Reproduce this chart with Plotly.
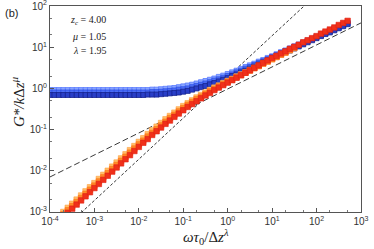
import plotly.graph_objects as go

# log10 of scaled frequency (shared grid)
logx_blue = [-4.0, -3.9, -3.8, -3.7, -3.6, -3.5, -3.4, -3.3, -3.2, -3.1,
             -3.0, -2.9, -2.8, -2.7, -2.6, -2.5, -2.4, -2.3, -2.2, -2.1,
             -2.0, -1.9, -1.8, -1.7, -1.6, -1.5, -1.4, -1.3, -1.2, -1.1,
             -1.0, -0.9, -0.8, -0.7, -0.6, -0.5, -0.4, -0.3, -0.2, -0.1,
             0.0, 0.1, 0.2, 0.3, 0.4, 0.5, 0.6, 0.7, 0.8, 0.9,
             1.0, 1.1, 1.2, 1.3, 1.4, 1.5, 1.6, 1.7, 1.8, 1.9,
             2.0, 2.1, 2.2, 2.3, 2.4, 2.5, 2.6, 2.7]

# log10 G' / k dz^mu  (three blue series)
g1_light = [-0.04, -0.04, -0.04, -0.04, -0.04, -0.04, -0.04, -0.04, -0.04, -0.04,
            -0.04, -0.04, -0.04, -0.04, -0.04, -0.04, -0.04, -0.04, -0.04, -0.04,
            -0.04, -0.04, -0.04, -0.03, -0.03, -0.02, -0.01, 0.00, 0.01, 0.03,
            0.05, 0.07, 0.09, 0.12, 0.15, 0.18, 0.21, 0.24, 0.28, 0.31,
            0.35, 0.39, 0.43, 0.47, 0.52, 0.56, 0.60, 0.65, 0.69, 0.74,
            0.78, 0.83, 0.88, 0.92, 0.97, 1.02, 1.06, 1.11, 1.16, 1.20,
            1.25, 1.30, 1.35, 1.40, 1.45, 1.50, 1.55, 1.60]
g1_mid = [-0.10, -0.10, -0.10, -0.10, -0.10, -0.10, -0.10, -0.10, -0.10, -0.10,
          -0.10, -0.10, -0.10, -0.10, -0.10, -0.10, -0.10, -0.10, -0.10, -0.10,
          -0.10, -0.10, -0.10, -0.09, -0.09, -0.08, -0.07, -0.06, -0.05, -0.03,
          -0.02, 0.00, 0.03, 0.06, 0.09, 0.12, 0.15, 0.19, 0.22, 0.26,
          0.30, 0.34, 0.39, 0.43, 0.48, 0.52, 0.57, 0.62, 0.66, 0.71,
          0.76, 0.81, 0.86, 0.91, 0.96, 1.01, 1.06, 1.10, 1.15, 1.20,
          1.25, 1.29, 1.34, 1.39, 1.44, 1.48, 1.53, 1.58]
g1_navy = [-0.16, -0.16, -0.16, -0.16, -0.16, -0.16, -0.16, -0.16, -0.16, -0.16,
           -0.16, -0.16, -0.16, -0.16, -0.16, -0.16, -0.16, -0.16, -0.16, -0.16,
           -0.16, -0.16, -0.15, -0.15, -0.15, -0.14, -0.13, -0.12, -0.11, -0.10,
           -0.08, -0.06, -0.03, 0.00, 0.03, 0.06, 0.10, 0.13, 0.17, 0.21,
           0.25, 0.30, 0.34, 0.39, 0.43, 0.48, 0.53, 0.58, 0.63, 0.68,
           0.73, 0.78, 0.83, 0.88, 0.92, 0.97, 1.02, 1.07, 1.12, 1.17,
           1.22, 1.27, 1.32, 1.36, 1.41, 1.46, 1.51, 1.56]

logx_orange = [-3.8, -3.7, -3.6, -3.5, -3.4, -3.3, -3.2, -3.1,
               -3.0, -2.9, -2.8, -2.7, -2.6, -2.5, -2.4, -2.3, -2.2, -2.1,
               -2.0, -1.9, -1.8, -1.7, -1.6, -1.5, -1.4, -1.3, -1.2, -1.1,
               -1.0, -0.9, -0.8, -0.7, -0.6, -0.5, -0.4, -0.3, -0.2, -0.1,
               0.0, 0.1, 0.2, 0.3, 0.4, 0.5, 0.6, 0.7, 0.8, 0.9,
               1.0, 1.1, 1.2, 1.3, 1.4, 1.5, 1.6, 1.7, 1.8, 1.9,
               2.0, 2.1, 2.2, 2.3, 2.4, 2.5, 2.6, 2.7]

# log10 G'' / k dz^mu  (three orange/red series)
g2_light = [-3.10, -3.00, -2.90, -2.80, -2.70, -2.60, -2.50, -2.40,
            -2.30, -2.20, -2.10, -2.00, -1.90, -1.80, -1.70, -1.60, -1.50, -1.40,
            -1.30, -1.21, -1.11, -1.02, -0.93, -0.84, -0.75, -0.67, -0.59, -0.51,
            -0.43, -0.36, -0.29, -0.22, -0.16, -0.10, -0.04, 0.02, 0.07, 0.13,
            0.18, 0.23, 0.29, 0.34, 0.39, 0.45, 0.50, 0.55, 0.61, 0.66,
            0.71, 0.77, 0.82, 0.87, 0.93]
g2_orange = [-3.16, -3.06, -2.96, -2.86, -2.76, -2.66, -2.56, -2.46,
             -2.36, -2.26, -2.16, -2.06, -1.96, -1.86, -1.76, -1.66, -1.56, -1.46,
             -1.36, -1.27, -1.17, -1.08, -0.99, -0.90, -0.81, -0.72, -0.64, -0.56,
             -0.48, -0.40, -0.33, -0.26, -0.20, -0.13, -0.07, -0.01, 0.05, 0.10,
             0.16, 0.21, 0.27, 0.32, 0.38, 0.43, 0.49, 0.54, 0.60, 0.65,
             0.71, 0.76, 0.82, 0.87, 0.93, 0.98]
g2_red = [-3.22, -3.12, -3.02, -2.92, -2.82, -2.72, -2.62, -2.52,
          -2.42, -2.32, -2.22, -2.12, -2.02, -1.92, -1.82, -1.72, -1.62, -1.52,
          -1.42, -1.32, -1.23, -1.13, -1.04, -0.95, -0.86, -0.78, -0.69, -0.61,
          -0.53, -0.45, -0.38, -0.31, -0.24, -0.17, -0.11, -0.04, 0.02, 0.08,
          0.14, 0.20, 0.26, 0.32, 0.38, 0.44, 0.50, 0.56, 0.62, 0.68,
          0.74, 0.79, 0.85, 0.90, 0.96, 1.01, 1.06, 1.12, 1.17, 1.22,
          1.27, 1.33, 1.38, 1.43, 1.48, 1.54, 1.59, 1.64]

# guide power laws: endpoints (log10 x, log10 y)
guide_slope1_x = [-3.3, 1.7]
guide_slope1_y = [-3.02, 1.98]
guide_slope2_x = [-4.0, 3.0]
guide_slope2_y = [-2.15, 1.59]

tick_exps = [-4, -3, -2, -1, 0, 1, 2, 3]
ytick_exps = [-3, -2, -1, 0, 1, 2]

def p10(v):
    return [10 ** a for a in v]

fig = go.Figure()

fig.add_trace(go.Scatter(x=p10(guide_slope2_x), y=p10(guide_slope2_y), mode="lines",
                         line=dict(color="#222", width=0.9, dash="6px,3px"), hoverinfo="skip"))
fig.add_trace(go.Scatter(x=p10(guide_slope1_x), y=p10(guide_slope1_y), mode="lines",
                         line=dict(color="#222", width=0.9, dash="3px,2px"), hoverinfo="skip"))

blue_specs = [(g1_light, "#8aa6ff", "#5b7bff"), (g1_mid, "#4d6ef5", "#2e50e6"), (g1_navy, "#2a3fc8", "#16238f")]
for ys, fc, lc in blue_specs:
    n = len(ys)
    fig.add_trace(go.Scatter(x=p10(logx_blue[:n]), y=p10(ys), mode="markers",
                             marker=dict(symbol="square", size=5, color=fc,
                                         line=dict(color=lc, width=0.8))))

orange_specs = [(g2_light, "#ffbf6a", "#ffa040"), (g2_orange, "#ff8a2a", "#ff7010"), (g2_red, "#f0301a", "#e02010")]
for ys, fc, lc in orange_specs:
    n = len(ys)
    fig.add_trace(go.Scatter(x=p10(logx_orange[:n]), y=p10(ys), mode="markers",
                             marker=dict(symbol="square", size=5.5, color=fc,
                                         line=dict(color=lc, width=0.6))))

tickfont = dict(family="Liberation Sans, Arial, sans-serif", size=10, color="#333")
axis_common = dict(type="log", showgrid=False, zeroline=False, showline=True, mirror=True,
                   automargin=False, ticklabeloverflow="allow",
                   linecolor="#555", linewidth=1, ticks="inside", ticklen=4, tickcolor="#555",
                   minor=dict(ticks="inside", ticklen=2, tickcolor="#777", showgrid=False),
                   tickfont=tickfont)

fig.update_layout(
    width=374, height=249,
    margin=dict(l=50, r=13, t=6, b=37),
    paper_bgcolor="white", plot_bgcolor="white",
    showlegend=False,
    xaxis=dict(axis_common, range=[-4, 3.001],
               tickvals=[10 ** e for e in tick_exps],
               ticktext=["10<sup>%d</sup>" % e for e in tick_exps]),
    yaxis=dict(axis_common, range=[-3.001, 2.001],
               tickvals=[10 ** e for e in ytick_exps],
               ticktext=["10<sup>%d</sup>" % e for e in ytick_exps]),
)

serif = "Liberation Serif, Times New Roman, serif"
PW, PH = 311.0, 206.0
def px(xp):
    return (xp - 50) / PW
def py(yp):
    return (212 - yp) / PH

fig.add_annotation(text="(b)", x=px(3), y=py(13), xref="paper", yref="paper",
                   xanchor="left", yanchor="middle", showarrow=False,
                   font=dict(family="Liberation Sans, Arial", size=11, color="#222"))
for txt, yy in [("<i>z<sub>c</sub></i> = 4.00", 21), ("<i>μ</i> = 1.05", 36), ("<i>λ</i> = 1.95", 50)]:
    fig.add_annotation(text=txt, x=px(108), y=py(yy), xref="paper", yref="paper",
                       xanchor="right", yanchor="middle", showarrow=False,
                       font=dict(family=serif, size=10, color="#222"))

fig.add_annotation(text="<i>G*/k</i>Δ<i>z<sup>μ</sup></i>", x=px(18), y=py(102), xref="paper", yref="paper",
                   textangle=-90, showarrow=False, xanchor="center", yanchor="middle",
                   font=dict(family=serif, size=15, color="#222"))
fig.add_annotation(text="<i>ωτ</i><sub>0</sub>/Δ<i>z<sup>λ</sup></i>", x=px(206), y=py(237), xref="paper", yref="paper",
                   showarrow=False, xanchor="center", yanchor="middle",
                   font=dict(family=serif, size=15, color="#222"))

fig.write_html("out.html", config={"displayModeBar": False},
               post_script="document.body.style.margin='0';document.body.style.overflow='hidden';")
